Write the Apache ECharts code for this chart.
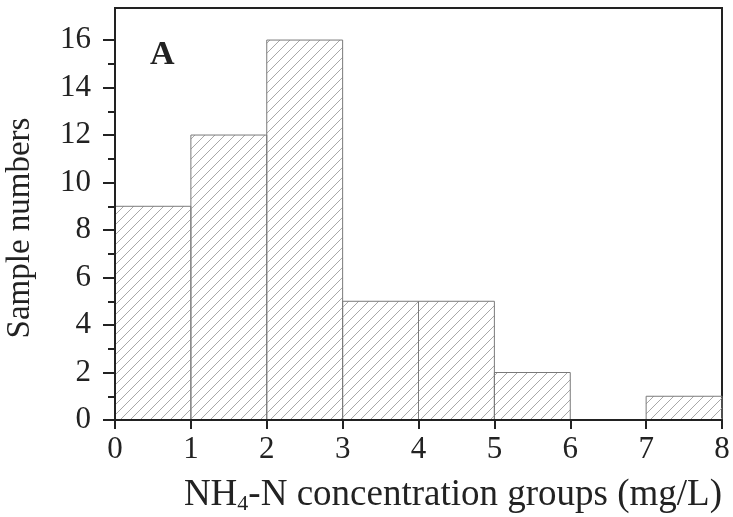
<!DOCTYPE html>
<html>
<head>
<meta charset="utf-8">
<script src="https://cdn.jsdelivr.net/npm/echarts@6/dist/echarts.min.js"></script>
<style>
  html, body { margin: 0; padding: 0; background: #fff; }
  #chart { width: 733px; height: 517px; }
</style>
</head>
<body>
<div id="chart"></div>
<script>
// histogram bins (mg/L) and counts
const binStart = [0, 1, 2, 3, 4, 5, 6, 7];
const binEnd = [1, 2, 3, 4, 5, 6, 7, 8];
const counts = [9, 12, 16, 5, 5, 2, 0, 1];
const yMajorTicks = [0, 2, 4, 6, 8, 10, 12, 14, 16];
const yMinorTicks = [1, 3, 5, 7, 9, 11, 13, 15];
const xTicks = [0, 1, 2, 3, 4, 5, 6, 7, 8];

const serif = '"Liberation Serif", "DejaVu Serif", serif';
const ink = '#222';

// diagonal hatch tile
const tile = document.createElement('canvas');
const T = 10;
tile.width = T;
tile.height = T;
const tctx = tile.getContext('2d');
tctx.strokeStyle = '#a8a8a8';
tctx.lineWidth = 1;
tctx.beginPath();
tctx.moveTo(-1, T + 1); tctx.lineTo(T + 1, -1);
tctx.moveTo(-1, 1); tctx.lineTo(1, -1);
tctx.moveTo(T - 1, T + 1); tctx.lineTo(T + 1, T - 1);
tctx.stroke();
const hatch = { image: tile, repeat: 'repeat' };

const histData = binStart.map((s, i) => [s, binEnd[i], counts[i]]);

const chart = echarts.init(document.getElementById('chart'));

const option = {
  animation: false,
  title: {
    text: 'A',
    left: 145,
    top: 33,
    textStyle: { fontFamily: serif, fontWeight: 'bold', fontSize: 34, color: ink }
  },
  grid: {
    left: 115, right: 11, top: 8, bottom: 97,
    containLabel: false,
    outerBoundsMode: 'none',
    show: true, borderColor: ink, borderWidth: 2, backgroundColor: 'transparent'
  },
  xAxis: {
    type: 'value',
    min: 0, max: 8, interval: 1,
    z: 5,
    name: '{a|NH}{s|4}{a|-N concentration groups (mg/L)}',
    nameLocation: 'end',
    nameGap: 0,
    nameTextStyle: {
      align: 'right',
      verticalAlign: 'top',
      padding: [56, 0, 0, 0],
      rich: {
        a: { fontFamily: serif, fontSize: 37, color: ink },
        s: { fontFamily: serif, fontSize: 22, color: ink, verticalAlign: 'bottom', padding: [17, 0, 0, 0] }
      }
    },
    axisLine: { onZero: false, lineStyle: { color: ink, width: 2 } },
    axisTick: { show: true, inside: false, length: 9, lineStyle: { color: ink, width: 2 }, customValues: xTicks },
    axisLabel: { fontFamily: serif, fontSize: 31, color: ink, margin: 14, customValues: xTicks },
    splitLine: { show: false }
  },
  yAxis: [
    {
      type: 'value',
      min: 0, max: 17.35, interval: 2,
      z: 5,
      name: 'Sample numbers',
      nameLocation: 'middle',
      nameGap: 78,
      nameTextStyle: { fontFamily: serif, fontSize: 33, color: ink, padding: [0, 28, 0, 0] },
      axisLine: { show: true, lineStyle: { color: ink, width: 2 } },
      axisTick: { show: true, inside: false, length: 12, lineStyle: { color: ink, width: 2 }, customValues: yMajorTicks },
      axisLabel: { fontFamily: serif, fontSize: 31, color: ink, margin: 24, customValues: yMajorTicks },
      splitLine: { show: false }
    },
    {
      type: 'value',
      min: 0, max: 17.35,
      position: 'left',
      z: 5,
      axisLine: { show: false },
      axisTick: { show: true, inside: false, length: 7, lineStyle: { color: ink, width: 2 }, customValues: yMinorTicks },
      axisLabel: { show: false },
      splitLine: { show: false }
    }
  ],
  series: [
    {
      type: 'custom',
      z: 1,
      data: histData,
      encode: { x: [0, 1], y: 2 },
      renderItem: function (params, api) {
        const c = api.value(2);
        if (!c) return null;
        const p0 = api.coord([api.value(0), 0]);
        const p1 = api.coord([api.value(1), c]);
        return {
          type: 'rect',
          shape: { x: p0[0], y: p1[1], width: p1[0] - p0[0], height: p0[1] - p1[1] },
          style: { fill: hatch, stroke: '#7a7a7a', lineWidth: 1 }
        };
      }
    }
  ]
};

chart.setOption(option);
</script>
</body>
</html>
